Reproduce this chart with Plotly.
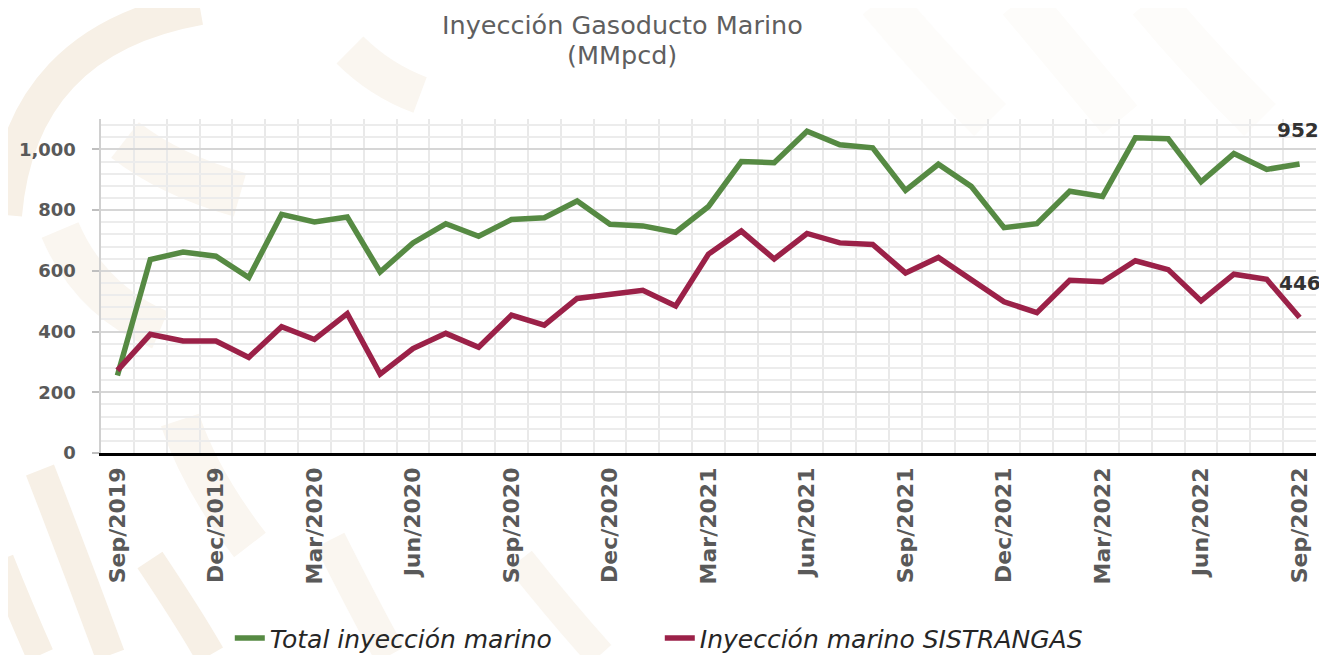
import plotly.graph_objects as go

months = ["Sep/2019", "Oct/2019", "Nov/2019", "Dec/2019", "Jan/2020", "Feb/2020", "Mar/2020",
          "Apr/2020", "May/2020", "Jun/2020", "Jul/2020", "Aug/2020", "Sep/2020", "Oct/2020",
          "Nov/2020", "Dec/2020", "Jan/2021", "Feb/2021", "Mar/2021", "Apr/2021", "May/2021",
          "Jun/2021", "Jul/2021", "Aug/2021", "Sep/2021", "Oct/2021", "Nov/2021", "Dec/2021",
          "Jan/2022", "Feb/2022", "Mar/2022", "Apr/2022", "May/2022", "Jun/2022", "Jul/2022",
          "Aug/2022", "Sep/2022"]

total_marino = [255, 637, 662, 648, 578, 786, 761, 777, 596, 692, 755, 714, 769, 775, 830,
                753, 748, 727, 812, 960, 956, 1060, 1015, 1005, 865, 951, 878, 742, 755,
                862, 845, 1038, 1035, 893, 986, 934, 952]

sistrangas = [272, 391, 369, 369, 315, 416, 374, 459, 260, 344, 394, 348, 454, 421, 509,
              523, 536, 484, 655, 731, 639, 723, 692, 687, 593, 644, 569, 498, 462, 569,
              564, 633, 604, 501, 589, 572, 446]

tick_labels = months[::3]

idx = list(range(len(months)))
tick_idx = idx[::3]

GREEN = "#568a43"
RED = "#9b2148"
TXT = "#595959"
NBSP = "\u00a0"

# plot-area geometry on the page (used only for decorative watermark placement)
PX0, PX1, PY0, PY1 = 101, 1316, 119, 453


def px(x):
    return (x - PX0) / (PX1 - PX0)


def py(y):
    return (PY1 - y) / (PY1 - PY0)


def stroke(pts, color, width):
    (x0, y0), (cx, cy), (x1, y1) = pts
    return dict(type="path", xref="paper", yref="paper", layer="below",
                path="M %.4f %.4f Q %.4f %.4f %.4f %.4f" % (px(x0), py(y0), px(cx), py(cy),
                                                          px(x1), py(y1)),
                line=dict(color=color, width=width))


BEIGE = "#f7f0e6"
BEIGE2 = "#faf6f0"
BEIGE3 = "#fdfcfa"
watermark = [
    stroke([(5, 215), (20, 40), (200, 8)], BEIGE, 34),
    stroke([(125, 140), (170, 175), (240, 195)], BEIGE2, 45),
    stroke([(60, 230), (90, 300), (160, 330)], BEIGE2, 40),
    stroke([(350, 50), (380, 80), (420, 95)], BEIGE2, 38),
    stroke([(40, 470), (75, 560), (110, 655)], BEIGE, 30),
    stroke([(0, 560), (20, 610), (40, 655)], BEIGE, 28),
    stroke([(180, 420), (200, 480), (250, 545)], BEIGE2, 40),
    stroke([(150, 560), (190, 620), (210, 655)], BEIGE, 30),
    stroke([(330, 540), (360, 600), (390, 655)], BEIGE2, 32),
    stroke([(520, 560), (560, 610), (600, 655)], BEIGE2, 30),
    stroke([(880, 0), (930, 60), (990, 120)], BEIGE3, 45),
    stroke([(1020, 0), (1070, 60), (1120, 120)], BEIGE3, 45),
    stroke([(1150, 0), (1200, 60), (1260, 120)], BEIGE3, 45),
]

fig = go.Figure()
fig.add_trace(go.Scatter(x=idx, y=total_marino, mode="lines", name="Total inyección marino",
                         line=dict(color=GREEN, width=5.5), text=months,
                         hovertemplate="%{text}: %{y}<extra></extra>"))
fig.add_trace(go.Scatter(x=idx, y=sistrangas, mode="lines", name="Inyección marino SISTRANGAS",
                         line=dict(color=RED, width=5.5), text=months,
                         hovertemplate="%{text}: %{y}<extra></extra>"))

# end-of-series value labels
fig.add_annotation(xref="paper", x=1.004, xanchor="right", yref="paper", y=0.967,
                   yanchor="middle", text="<b>%d</b>" % total_marino[-1], showarrow=False,
                   font=dict(family="DejaVu Sans", size=20, color="#333333"))
fig.add_annotation(xref="paper", x=1.006, xanchor="right", yref="paper", y=0.509,
                   yanchor="middle", text="<b>%d</b>" % sistrangas[-1], showarrow=False,
                   font=dict(family="DejaVu Sans", size=20, color="#333333"))

# title (two lines)
fig.add_annotation(xref="paper", x=0.429, xanchor="center", yref="paper", y=1.281,
                   yanchor="middle", text="Inyección Gasoducto Marino", showarrow=False,
                   font=dict(family="DejaVu Sans", size=25.5, color="#5f5f5f"))
fig.add_annotation(xref="paper", x=0.429, xanchor="center", yref="paper", y=1.192,
                   yanchor="middle", text="(MMpcd)", showarrow=False,
                   font=dict(family="DejaVu Sans", size=25.5, color="#5f5f5f"))

fig.update_layout(
    width=1319, height=647,
    margin=dict(l=93, r=11, t=111, b=202, autoexpand=False),
    paper_bgcolor="white", plot_bgcolor="rgba(0,0,0,0)",
    shapes=watermark,
    showlegend=True,
    legend=dict(orientation="h", x=0.106, xanchor="left", y=-0.555, yanchor="middle",
                font=dict(family="DejaVu Sans", size=25, color="#262626", style="italic"),
                entrywidth=385, entrywidthmode="pixels",
                tracegroupgap=0, bgcolor="rgba(0,0,0,0)"),
    xaxis=dict(
        range=[-0.5, len(months) - 0.5], automargin=False,
        tickmode="array", tickvals=tick_idx, ticktext=tick_labels,
        tickangle=-90, showgrid=False, zeroline=False,
        ticks="outside", ticklen=3, tickcolor="rgba(0,0,0,0)",
        showline=True, linecolor="black", linewidth=2.5,
        tickfont=dict(family="DejaVu Sans", size=22, color=TXT, weight="bold"),
        minor=dict(tick0=-0.5, dtick=1, showgrid=True, gridcolor="#e9e9e9", gridwidth=2,
                   ticks=""),
    ),
    yaxis=dict(
        range=[0, 1100], dtick=200, tickformat=",d", automargin=False,
        ticksuffix=NBSP * 2,
        showgrid=True, gridcolor="#d6d6d6", gridwidth=2, zeroline=False,
        showline=True, linecolor="#d0d0d0", linewidth=2,
        ticks="outside", ticklen=7, tickcolor="#bfbfbf", tickwidth=1.5,
        tickfont=dict(family="DejaVu Sans", size=18, color=TXT, weight="bold"),
        minor=dict(dtick=40, showgrid=True, gridcolor="#ececec", gridwidth=2, ticks=""),
    ),
)

fig.write_html("out.html")
